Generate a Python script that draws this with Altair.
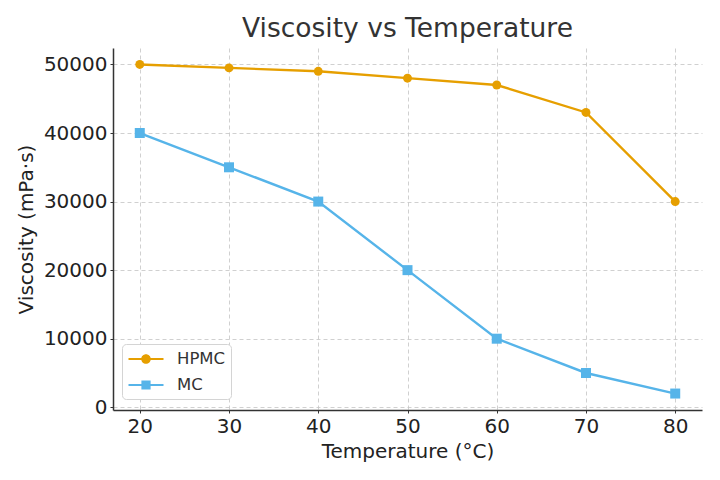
import altair as alt
import pandas as pd

temps = [20, 30, 40, 50, 60, 70, 80]
hpmc = [50000, 49500, 49000, 48000, 47000, 43000, 30000]
mc = [40000, 35000, 30000, 20000, 10000, 5000, 2000]
series = ["HPMC", "MC"]
colors = ["#E69F00", "#56B4E9"]
y_ticks = [0, 10000, 20000, 30000, 40000, 50000]

rows = []
for t, v in zip(temps, hpmc):
    rows.append({"Temperature": t, "Viscosity": v, "Series": "HPMC"})
for t, v in zip(temps, mc):
    rows.append({"Temperature": t, "Viscosity": v, "Series": "MC"})
df = pd.DataFrame(rows)

FONT = "DejaVu Sans"

# legend glyphs: a line segment with a marker on it (unit coords, scaled by sqrt(size)/2)
LINE = "M-1.75,-0.11H1.75V0.11H-1.75Z"
legend_glyphs = [
    LINE + " M0.48,0 A0.48,0.48 0 1 1 -0.48,0 A0.48,0.48 0 1 1 0.48,0 Z",
    LINE + " M-0.46,-0.46H0.46V0.46H-0.46Z",
]

legend = alt.Legend(title=None, orient="none", legendX=9, legendY=296,
                    symbolSize=400, symbolOffset=9, labelOffset=21,
                    labelFontSize=16.5, labelFont=FONT, labelColor="#333",
                    fillColor="white", strokeColor="#d4d4d4", padding=5,
                    cornerRadius=4, rowPadding=7, symbolStrokeWidth=0)

x = alt.X("Temperature:Q", title="Temperature (°C)",
          scale=alt.Scale(domain=[17, 83], nice=False, zero=False),
          axis=alt.Axis(values=temps, format="d"))
y = alt.Y("Viscosity:Q", title="Viscosity (mPa·s)",
          scale=alt.Scale(domain=[-400, 52400], nice=False, zero=False),
          axis=alt.Axis(values=y_ticks, format="d"))
color = alt.Color("Series:N", scale=alt.Scale(domain=series, range=colors), legend=legend)

lines = alt.Chart(df).mark_line(strokeWidth=2.4).encode(x=x, y=y, color=color)
pts_h = alt.Chart(df).transform_filter("datum.Series == 'HPMC'").mark_point(
    filled=True, opacity=1, shape="circle", size=80).encode(x=x, y=y, color=color)
pts_m = alt.Chart(df).transform_filter("datum.Series == 'MC'").mark_point(
    filled=True, opacity=1, shape="square", size=100).encode(x=x, y=y, color=color)
leg = alt.Chart(df).transform_filter("false").mark_point(filled=True, opacity=1).encode(
    x=x, y=y, color=color,
    shape=alt.Shape("Series:N", scale=alt.Scale(domain=series, range=legend_glyphs), legend=legend),
)

chart = alt.layer(lines, pts_h, pts_m, leg).properties(
    width=589, height=362,
    title=alt.Title("Viscosity vs Temperature", fontSize=26.5, font=FONT, fontWeight="normal",
                    color="#333", anchor="middle", offset=6),
    autosize=alt.AutoSizeParams(type="none"),
    padding={"left": 105, "top": 40, "right": 10, "bottom": 62},
).configure_view(stroke=None).configure_axis(
    labelFont=FONT, titleFont=FONT, labelFontSize=20, titleFontSize=20,
    labelColor="#222", titleColor="#222", titleFontWeight="normal",
    domainColor="#333", domainWidth=1.5, tickColor="#333", tickSize=3,
    gridColor="#c4c4c4", gridDash=[4, 3], gridWidth=0.8, labelPadding=3,
).configure_axisX(titlePadding=5).configure_axisY(titlePadding=7)

chart.save("out.html", embed_options={"renderer": "svg", "actions": False})
